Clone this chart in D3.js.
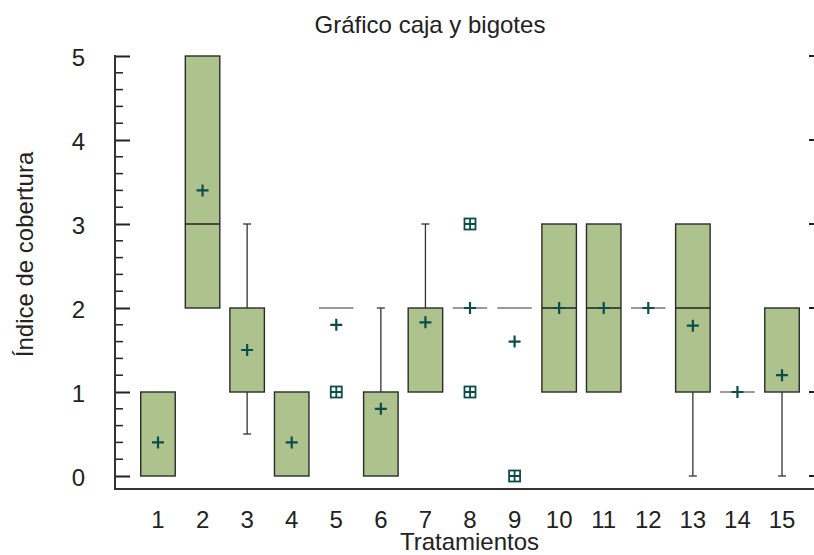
<!DOCTYPE html>
<html><head><meta charset="utf-8">
<script src="https://cdn.jsdelivr.net/npm/d3@7"></script>
<style>body{margin:0;background:#fff}svg{display:block}text{font-family:"Liberation Sans",Arial,sans-serif;fill:#222}</style>
</head><body>
<svg id="c" width="814" height="555"></svg>
<script>
const categories = ["1","2","3","4","5","6","7","8","9","10","11","12","13","14","15"];
const q1Values     = [0, 2, 1,   0, 2, 0, 1, 2, 2, 1, 1, 2, 1, 1, 1];
const medianValues = [0, 3, 1,   0, 2, 0, 1, 2, 2, 2, 2, 2, 2, 1, 1];
const q3Values     = [1, 5, 2,   1, 2, 1, 2, 2, 2, 3, 3, 2, 3, 1, 2];
const whiskerLow   = [0, 2, 0.5, 0, 2, 0, 1, 2, 2, 1, 1, 2, 0, 1, 0];
const whiskerHigh  = [1, 5, 3,   1, 2, 2, 3, 2, 2, 3, 3, 2, 3, 1, 2];
const meanValues   = [0.4, 3.4, 1.5, 0.4, 1.8, 0.8, 1.83, 2, 1.6, 2, 2, 2, 1.79, 1, 1.2];
const outliers = [{cat:"5", v:1}, {cat:"8", v:1}, {cat:"8", v:3}, {cat:"9", v:0}];
const yTicks = [0, 1, 2, 3, 4, 5];

(function(){
const svg = d3.select("#c");
const mLeft = 115, mRight = 814, mTop = 56, mBottom = 476, axisY = 489;
const x = d3.scaleBand().domain(categories).range([135.7, 804.3]).paddingInner(0.226).paddingOuter(0.113);
const y = d3.scaleLinear().domain([0, 5]).range([mBottom, mTop]);
const bw = x.bandwidth();
const cx = c => x(c) + bw / 2;
const fs = 24;

svg.append("text").attr("x", 430).attr("y", 33).attr("text-anchor", "middle")
  .attr("font-size", fs).text("Gráfico caja y bigotes");

const yAxis = d3.axisRight(y).tickValues(yTicks).tickSize(15).tickFormat("");
const gy = svg.append("g").attr("transform", `translate(${mLeft},0)`).call(yAxis);
gy.select(".domain").remove();
gy.selectAll(".tick line").attr("stroke", "#222").attr("stroke-width", 2);
const minor = d3.range(0, 5.001, 0.2).filter(v => Math.abs(v - Math.round(v)) > 1e-6);
svg.append("g").selectAll("line").data(minor).join("line")
  .attr("x1", mLeft).attr("x2", mLeft + 8).attr("y1", d => y(d)).attr("y2", d => y(d))
  .attr("stroke", "#222").attr("stroke-width", 1.5);
svg.append("line").attr("x1", mLeft).attr("x2", mLeft).attr("y1", mTop - 1).attr("y2", axisY + 1)
  .attr("stroke", "#333").attr("stroke-width", 2);
svg.append("g").selectAll("text").data(yTicks).join("text")
  .attr("x", 85).attr("y", d => y(d) + 9.5).attr("text-anchor", "end").attr("font-size", fs).text(d => d);

svg.append("g").selectAll("line").data(yTicks).join("line")
  .attr("x1", 809).attr("x2", 814).attr("y1", d => y(d)).attr("y2", d => y(d))
  .attr("stroke", "#222").attr("stroke-width", 2);

svg.append("line").attr("x1", mLeft - 1).attr("x2", mRight).attr("y1", axisY).attr("y2", axisY)
  .attr("stroke", "#333").attr("stroke-width", 2);
svg.append("g").selectAll("text").data(categories).join("text")
  .attr("x", d => cx(d)).attr("y", 528).attr("text-anchor", "middle").attr("font-size", fs).text(d => d);

svg.append("text").attr("x", 469.5).attr("y", 550).attr("text-anchor", "middle").attr("font-size", fs).text("Tratamientos");
svg.append("text").attr("transform", "translate(33,254.5) rotate(-90)").attr("text-anchor", "middle")
  .attr("font-size", fs).text("Índice de cobertura");

const data = categories.map((c, i) => ({c, q1: q1Values[i], med: medianValues[i], q3: q3Values[i],
  lo: whiskerLow[i], hi: whiskerHigh[i], mean: meanValues[i]}));

const g = svg.append("g");
data.forEach(d => {
  const xc = cx(d.c);
  const wcol = "#333";
  if (d.hi > d.q3) {
    g.append("line").attr("x1", xc).attr("x2", xc).attr("y1", y(d.q3)).attr("y2", y(d.hi)).attr("stroke", wcol).attr("stroke-width", 1.3);
    g.append("line").attr("x1", xc - 4).attr("x2", xc + 4).attr("y1", y(d.hi)).attr("y2", y(d.hi)).attr("stroke", wcol).attr("stroke-width", 1.3);
  }
  if (d.lo < d.q1) {
    g.append("line").attr("x1", xc).attr("x2", xc).attr("y1", y(d.q1)).attr("y2", y(d.lo)).attr("stroke", wcol).attr("stroke-width", 1.3);
    g.append("line").attr("x1", xc - 4).attr("x2", xc + 4).attr("y1", y(d.lo)).attr("y2", y(d.lo)).attr("stroke", wcol).attr("stroke-width", 1.3);
  }
  if (d.q3 > d.q1) {
    g.append("rect").attr("x", x(d.c)).attr("y", y(d.q3)).attr("width", bw).attr("height", y(d.q1) - y(d.q3))
      .attr("fill", "#adc28c").attr("stroke", "#2b2b2b").attr("stroke-width", 1.4);
    if (d.med > d.q1 && d.med < d.q3)
      g.append("line").attr("x1", x(d.c)).attr("x2", x(d.c) + bw).attr("y1", y(d.med)).attr("y2", y(d.med))
        .attr("stroke", "#222").attr("stroke-width", 1.3);
  } else {
    g.append("line").attr("x1", x(d.c)).attr("x2", x(d.c) + bw).attr("y1", y(d.med)).attr("y2", y(d.med))
      .attr("stroke", "#777").attr("stroke-width", 1.6);
  }
});

const mcol = "#0b4e48";
g.selectAll(".mean").data(data).join("path").attr("class", "mean")
  .attr("d", d => { const xc = cx(d.c), yc = y(d.mean); return `M${xc-6},${yc}H${xc+6}M${xc},${yc-6}V${yc+6}`; })
  .attr("stroke", mcol).attr("stroke-width", 2.2).attr("fill", "none");

outliers.forEach(o => {
  const xc = cx(o.cat), yc = y(o.v), s = 5.5;
  g.append("rect").attr("x", xc - s).attr("y", yc - s).attr("width", 2*s).attr("height", 2*s)
    .attr("fill", "none").attr("stroke", mcol).attr("stroke-width", 1.8);
  g.append("path").attr("d", `M${xc-s},${yc}H${xc+s}M${xc},${yc-s}V${yc+s}`).attr("stroke", mcol).attr("stroke-width", 1.8);
});
})();
</script>
</body></html>
